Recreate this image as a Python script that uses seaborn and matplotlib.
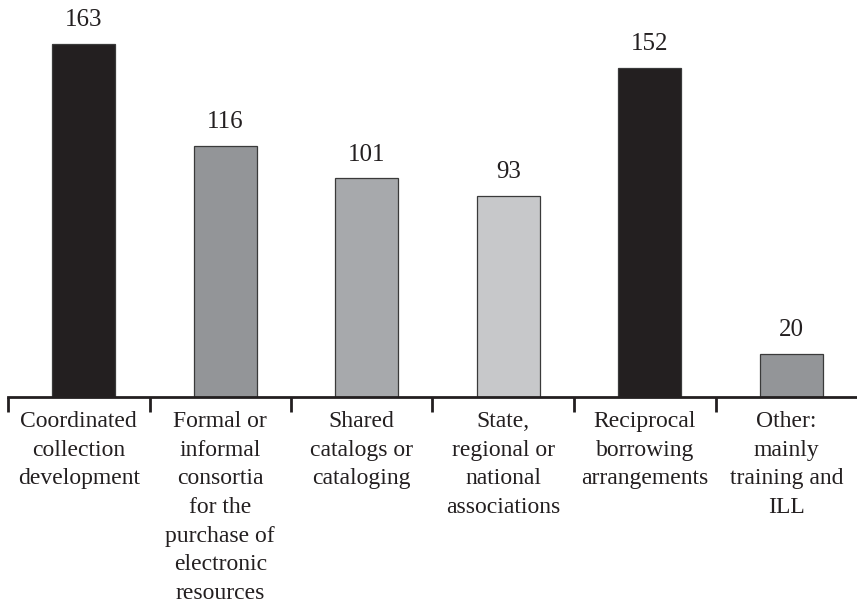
import matplotlib
matplotlib.use("Agg")
import matplotlib.pyplot as plt
import seaborn as sns
import pandas as pd

# Types of cooperative activity and number of libraries reporting each
categories = [
    "Coordinated\ncollection\ndevelopment",
    "Formal or\ninformal\nconsortia\nfor the\npurchase of\nelectronic\nresources",
    "Shared\ncatalogs or\ncataloging",
    "State,\nregional or\nnational\nassociations",
    "Reciprocal\nborrowing\narrangements",
    "Other:\nmainly\ntraining and\nILL",
]
counts = [163, 116, 101, 93, 152, 20]
bar_colors = ["#231f20", "#939598", "#a7a9ac", "#c7c8ca", "#231f20", "#939598"]

df = pd.DataFrame({"category": categories, "count": counts})

sns.set_theme(style="white")
plt.rcParams["font.family"] = ["Liberation Serif", "DejaVu Serif"]

fig = plt.figure(figsize=(8.57, 6.05), dpi=100)
ax = fig.add_axes([8 / 857, (605 - 397) / 605, 849 / 857, 397 / 605])

sns.barplot(
    data=df, x="category", y="count", hue="category",
    palette=bar_colors, legend=False, width=0.445,
    edgecolor="#3a3a3a", linewidth=0.9, saturation=1, ax=ax,
)

for cont in ax.containers:
    ax.bar_label(cont, fmt="%d", padding=9, fontsize=18, color="#231f20")

# bars sit slightly right of the centre of each labelled slot
shift = 0.035
n = len(categories)
ax.set_xlim(-0.5 - shift, n - 0.5 - shift)
ax.set_ylim(0, 183.3)
ax.set_xlabel("")
ax.set_ylabel("")
ax.set_yticks([])

for side in ["left", "right", "top"]:
    ax.spines[side].set_visible(False)
ax.spines["bottom"].set_color("#231f20")
ax.spines["bottom"].set_linewidth(2.0)

# category labels centred in each slot, tick marks at the slot boundaries
ax.set_xticks([i - shift for i in range(n)], labels=categories)
ax.set_xticks([i - 0.5 - shift for i in range(n)], minor=True)
ax.tick_params(axis="x", which="major", length=0, pad=10, labelsize=17,
               labelcolor="#231f20")
ax.tick_params(axis="x", which="minor", bottom=True, direction="out",
               length=11, width=2.0, color="#231f20")
for lbl in ax.get_xticklabels():
    lbl.set_linespacing(1.48)
    lbl.set_horizontalalignment("center")

fig.savefig("out.png", dpi=100)
